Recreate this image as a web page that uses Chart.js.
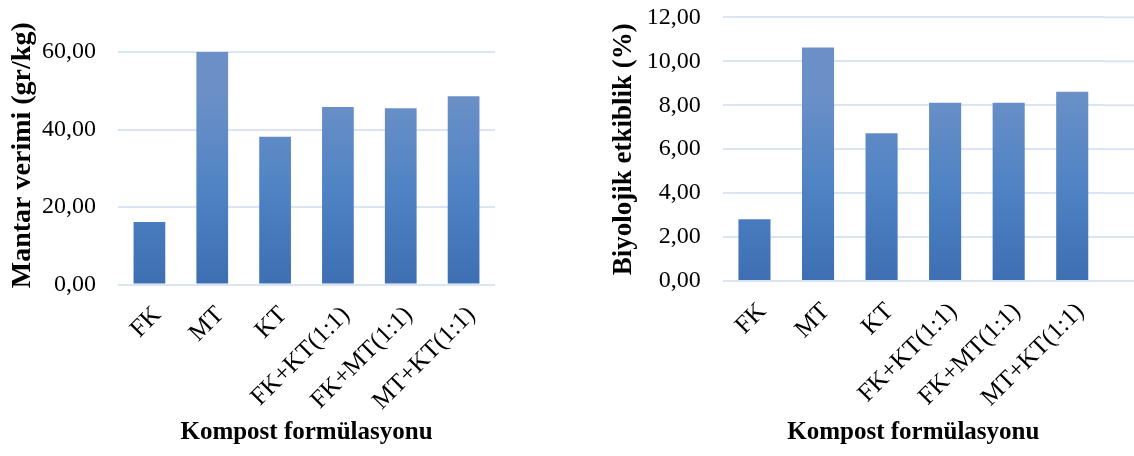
<!DOCTYPE html>
<html>
<head>
<meta charset="utf-8">
<script src="https://cdn.jsdelivr.net/npm/chart.js@4"></script>
<style>
  html, body { margin: 0; padding: 0; background: #fff; }
  body { width: 1134px; height: 456px; position: relative; overflow: hidden; }
  .box { position: absolute; top: 0; width: 567px; height: 456px; }
  #leftBox { left: 0; }
  #rightBox { left: 567px; }
</style>
</head>
<body>
<div class="box" id="leftBox"><canvas id="yieldChart"></canvas></div>
<div class="box" id="rightBox"><canvas id="beChart"></canvas></div>
<script>
// compost formulations
const categories = ['FK', 'MT', 'KT', 'FK+KT(1:1)', 'FK+MT(1:1)', 'MT+KT(1:1)'];
// mushroom yield (gr/kg)
const yieldValues = [16.1, 60.0, 38.1, 45.8, 45.5, 48.6];
// biological efficiency (%)
const beValues = [2.81, 10.63, 6.73, 8.12, 8.12, 8.61];

const yieldTicks = { min: 0, max: 60, step: 20 };
const beTicks = { min: 0, max: 12, step: 2 };

const FONT = "'Liberation Serif', 'Times New Roman', serif";
const GRID = '#dbe4f3';

// each bar gets its own top-to-bottom gradient
const barGradient = {
    id: 'barGradient',
    beforeDatasetsDraw(chart) {
        const ctx = chart.ctx;
        chart.getDatasetMeta(0).data.forEach(bar => {
            const g = ctx.createLinearGradient(0, bar.y, 0, bar.base);
            g.addColorStop(0, '#6b90c7');
            g.addColorStop(0.5, '#4f83c4');
            g.addColorStop(1, '#3d6fb2');
            bar.options.backgroundColor = g;
        });
    }
};

// right chart: gridlines run on to the edge of the picture
const gridRunOn = {
    id: 'gridRunOn',
    beforeDatasetsDraw(chart, args, opts) {
        if (!opts.enabled) return;
        const { ctx, chartArea } = chart;
        const y = chart.scales.y;
        ctx.save();
        ctx.strokeStyle = GRID;
        ctx.lineWidth = 2;
        y.ticks.forEach((t, i) => {
            const py = y.getPixelForTick(i);
            ctx.beginPath();
            ctx.moveTo(chartArea.right, py);
            ctx.lineTo(chart.width, py);
            ctx.stroke();
        });
        ctx.restore();
    }
};

// vertical axis title, drawn by hand so it can sit a little off centre
const yTitle = {
    id: 'yTitle',
    afterDraw(chart, args, opts) {
        const { ctx, chartArea } = chart;
        ctx.save();
        ctx.translate(opts.x, (chartArea.top + chartArea.bottom) / 2 + opts.dy);
        ctx.rotate(-Math.PI / 2);
        ctx.font = 'bold ' + opts.size + 'px ' + FONT;
        ctx.fillStyle = '#000';
        ctx.textAlign = 'center';
        ctx.textBaseline = 'middle';
        ctx.fillText(opts.text, 0, 0);
        ctx.restore();
    }
};

function makeChart(id, values, range, title, pad, yWidth, runOn) {
    const ctx = document.getElementById(id).getContext('2d');
    return new Chart(ctx, {
        type: 'bar',
        data: {
            labels: categories,
            datasets: [{
                data: values,
                backgroundColor: '#4f83c4',
                borderWidth: 0,
                barPercentage: 0.505,
                categoryPercentage: 1
            }]
        },
        options: {
            responsive: true,
            maintainAspectRatio: false,
            animation: false,
            layout: { padding: { top: pad.top, right: pad.right, bottom: 0, left: 0 } },
            plugins: {
                legend: { display: false },
                tooltip: { enabled: false },
                gridRunOn: { enabled: runOn },
                yTitle: title
            },
            scales: {
                x: {
                    grid: { display: false },
                    border: { display: false },
                    ticks: {
                        color: '#000',
                        font: { family: FONT, size: 25 },
                        minRotation: 45,
                        maxRotation: 45,
                        padding: 8,
                        labelOffset: 8
                    },
                    title: {
                        display: true,
                        text: 'Kompost formülasyonu',
                        color: '#000',
                        font: { family: FONT, size: 25, weight: 'bold' },
                        padding: { top: 0, bottom: 8 }
                    },
                    afterFit(scale) { scale.height = 456 - pad.top - pad.plotH; }
                },
                y: {
                    min: range.min,
                    max: range.max,
                    grid: { color: GRID, lineWidth: 2, tickColor: 'rgba(0,0,0,0)', tickLength: 19 },
                    border: { display: false },
                    ticks: {
                        stepSize: range.step,
                        color: '#000',
                        font: { family: FONT, size: 24 },
                        padding: 3,
                        callback: v => v.toFixed(2).replace('.', ',')
                    },
                    afterFit(scale) { scale.width = yWidth; }
                }
            }
        },
        plugins: [barGradient, gridRunOn, yTitle]
    });
}

makeChart('yieldChart', yieldValues, yieldTicks,
    { text: 'Mantar verimi (gr/kg)', size: 28, x: 22.5, dy: -13 },
    { top: 52, right: 72, plotH: 232.5 }, 118, false);
makeChart('beChart', beValues, beTicks,
    { text: 'Biyolojik etkiblik (%)', size: 27, x: 57, dy: 0 },
    { top: 13, right: 30, plotH: 268 }, 155.7, true);
</script>
</body>
</html>
